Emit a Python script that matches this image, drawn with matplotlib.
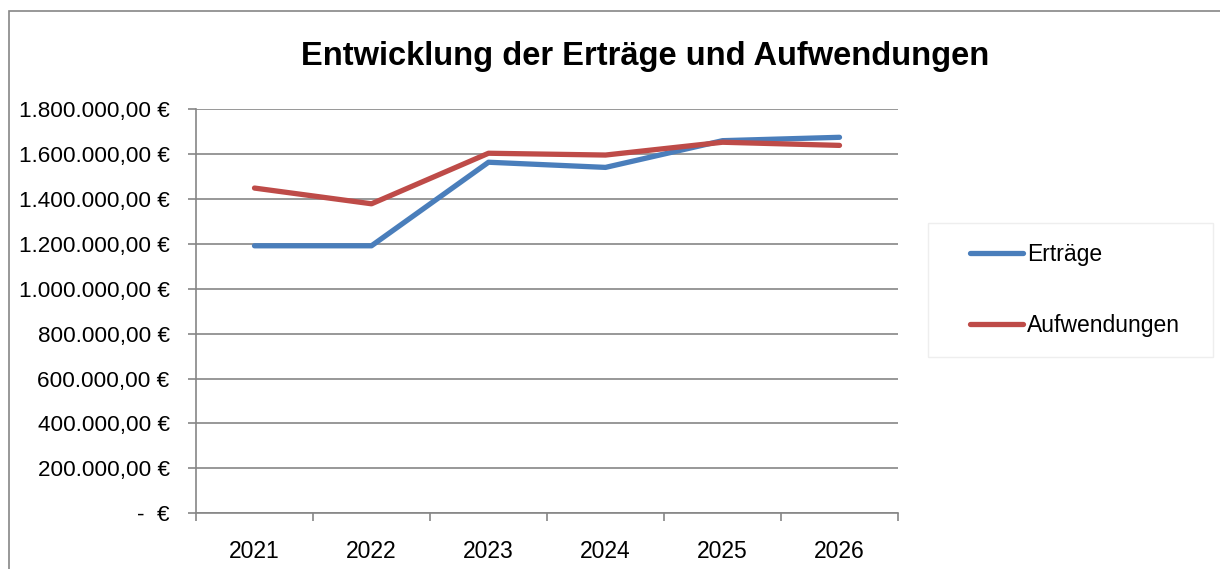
import numpy as np
import matplotlib.pyplot as plt
from matplotlib import font_manager
from matplotlib.patches import Rectangle
from matplotlib.ticker import FuncFormatter, FixedLocator

# data
years = ['2021', '2022', '2023', '2024', '2025', '2026']
ertraege = [1191000, 1191000, 1563000, 1540000, 1659000, 1674000]
aufwendungen = [1448000, 1378000, 1603000, 1595000, 1652000, 1638000]

names = {f.name for f in font_manager.fontManager.ttflist}
narrow = 'Liberation Sans Narrow' if 'Liberation Sans Narrow' in names else 'Liberation Sans'
plt.rcParams['font.family'] = [narrow, 'DejaVu Sans']

fig = plt.figure(figsize=(12.2, 5.69), dpi=100)
W, H = 1220, 569

# outer chart frame (continues past the right and bottom edges)
fig.patches.append(Rectangle((9 / W, -0.01), 1.0, 1.01 - 11 / H,
                             transform=fig.transFigure, fill=False,
                             edgecolor='#868686', linewidth=1.2))
# legend box (drawn by hand so the padding can differ per side)
fig.patches.append(Rectangle((928 / W, 1 - 357 / H), (1213 - 928) / W, (357 - 223) / H,
                             transform=fig.transFigure, fill=False,
                             edgecolor='#eeeeee', linewidth=1.0))

ax = fig.add_axes([196 / W, 1 - 513.3 / H, (898 - 196) / W, (513.3 - 109) / H])

x = np.arange(len(years))
ax.plot(x, ertraege, color='#4a7ebb', linewidth=3.8, solid_capstyle='round',
        solid_joinstyle='round', label='Erträge')
ax.plot(x, aufwendungen, color='#be4b48', linewidth=3.8, solid_capstyle='round',
        solid_joinstyle='round', label='Aufwendungen')

ax.set_xlim(-0.5, len(years) - 0.5)
ax.set_ylim(0, 1800000)
ax.set_yticks(np.arange(0, 1800001, 200000))


def euro(v, pos):
    if v == 0:
        return '-  €'
    s = f'{v:,.2f}'.replace(',', 'X').replace('.', ',').replace('X', '.')
    return s + ' €'


ax.yaxis.set_major_formatter(FuncFormatter(euro))
ax.grid(axis='y', color='#868686', linewidth=1.2)
ax.set_axisbelow(True)

ax.xaxis.set_major_locator(FixedLocator(np.arange(len(years) + 1) - 0.5))
ax.xaxis.set_minor_locator(FixedLocator(x))
ax.set_xticklabels([])
ax.set_xticklabels(years, minor=True)
ax.tick_params(axis='x', which='major', length=6, color='#868686', width=1.2)
ax.tick_params(axis='x', which='minor', length=0, labelsize=16.5, pad=19)
ax.tick_params(axis='y', length=6, color='#868686', width=1.2, labelsize=16.2, pad=13)

for s in ['top', 'right']:
    ax.spines[s].set_visible(False)
for s in ['left', 'bottom']:
    ax.spines[s].set_color('#868686')
    ax.spines[s].set_linewidth(1.2)

fig.text(645 / W, 1 - 56 / H, 'Entwicklung der Erträge und Aufwendungen',
         ha='center', va='center', fontsize=23.5, fontweight='bold')

leg = fig.legend(loc='upper left', bbox_to_anchor=(970 / W, 1 - 243 / H),
                 bbox_transform=fig.transFigure, fontsize=16.5, frameon=False,
                 handlelength=2.3, handletextpad=0.2,
                 labelspacing=2.1, borderpad=0, borderaxespad=0)

fig.savefig('out.png', dpi=100)
